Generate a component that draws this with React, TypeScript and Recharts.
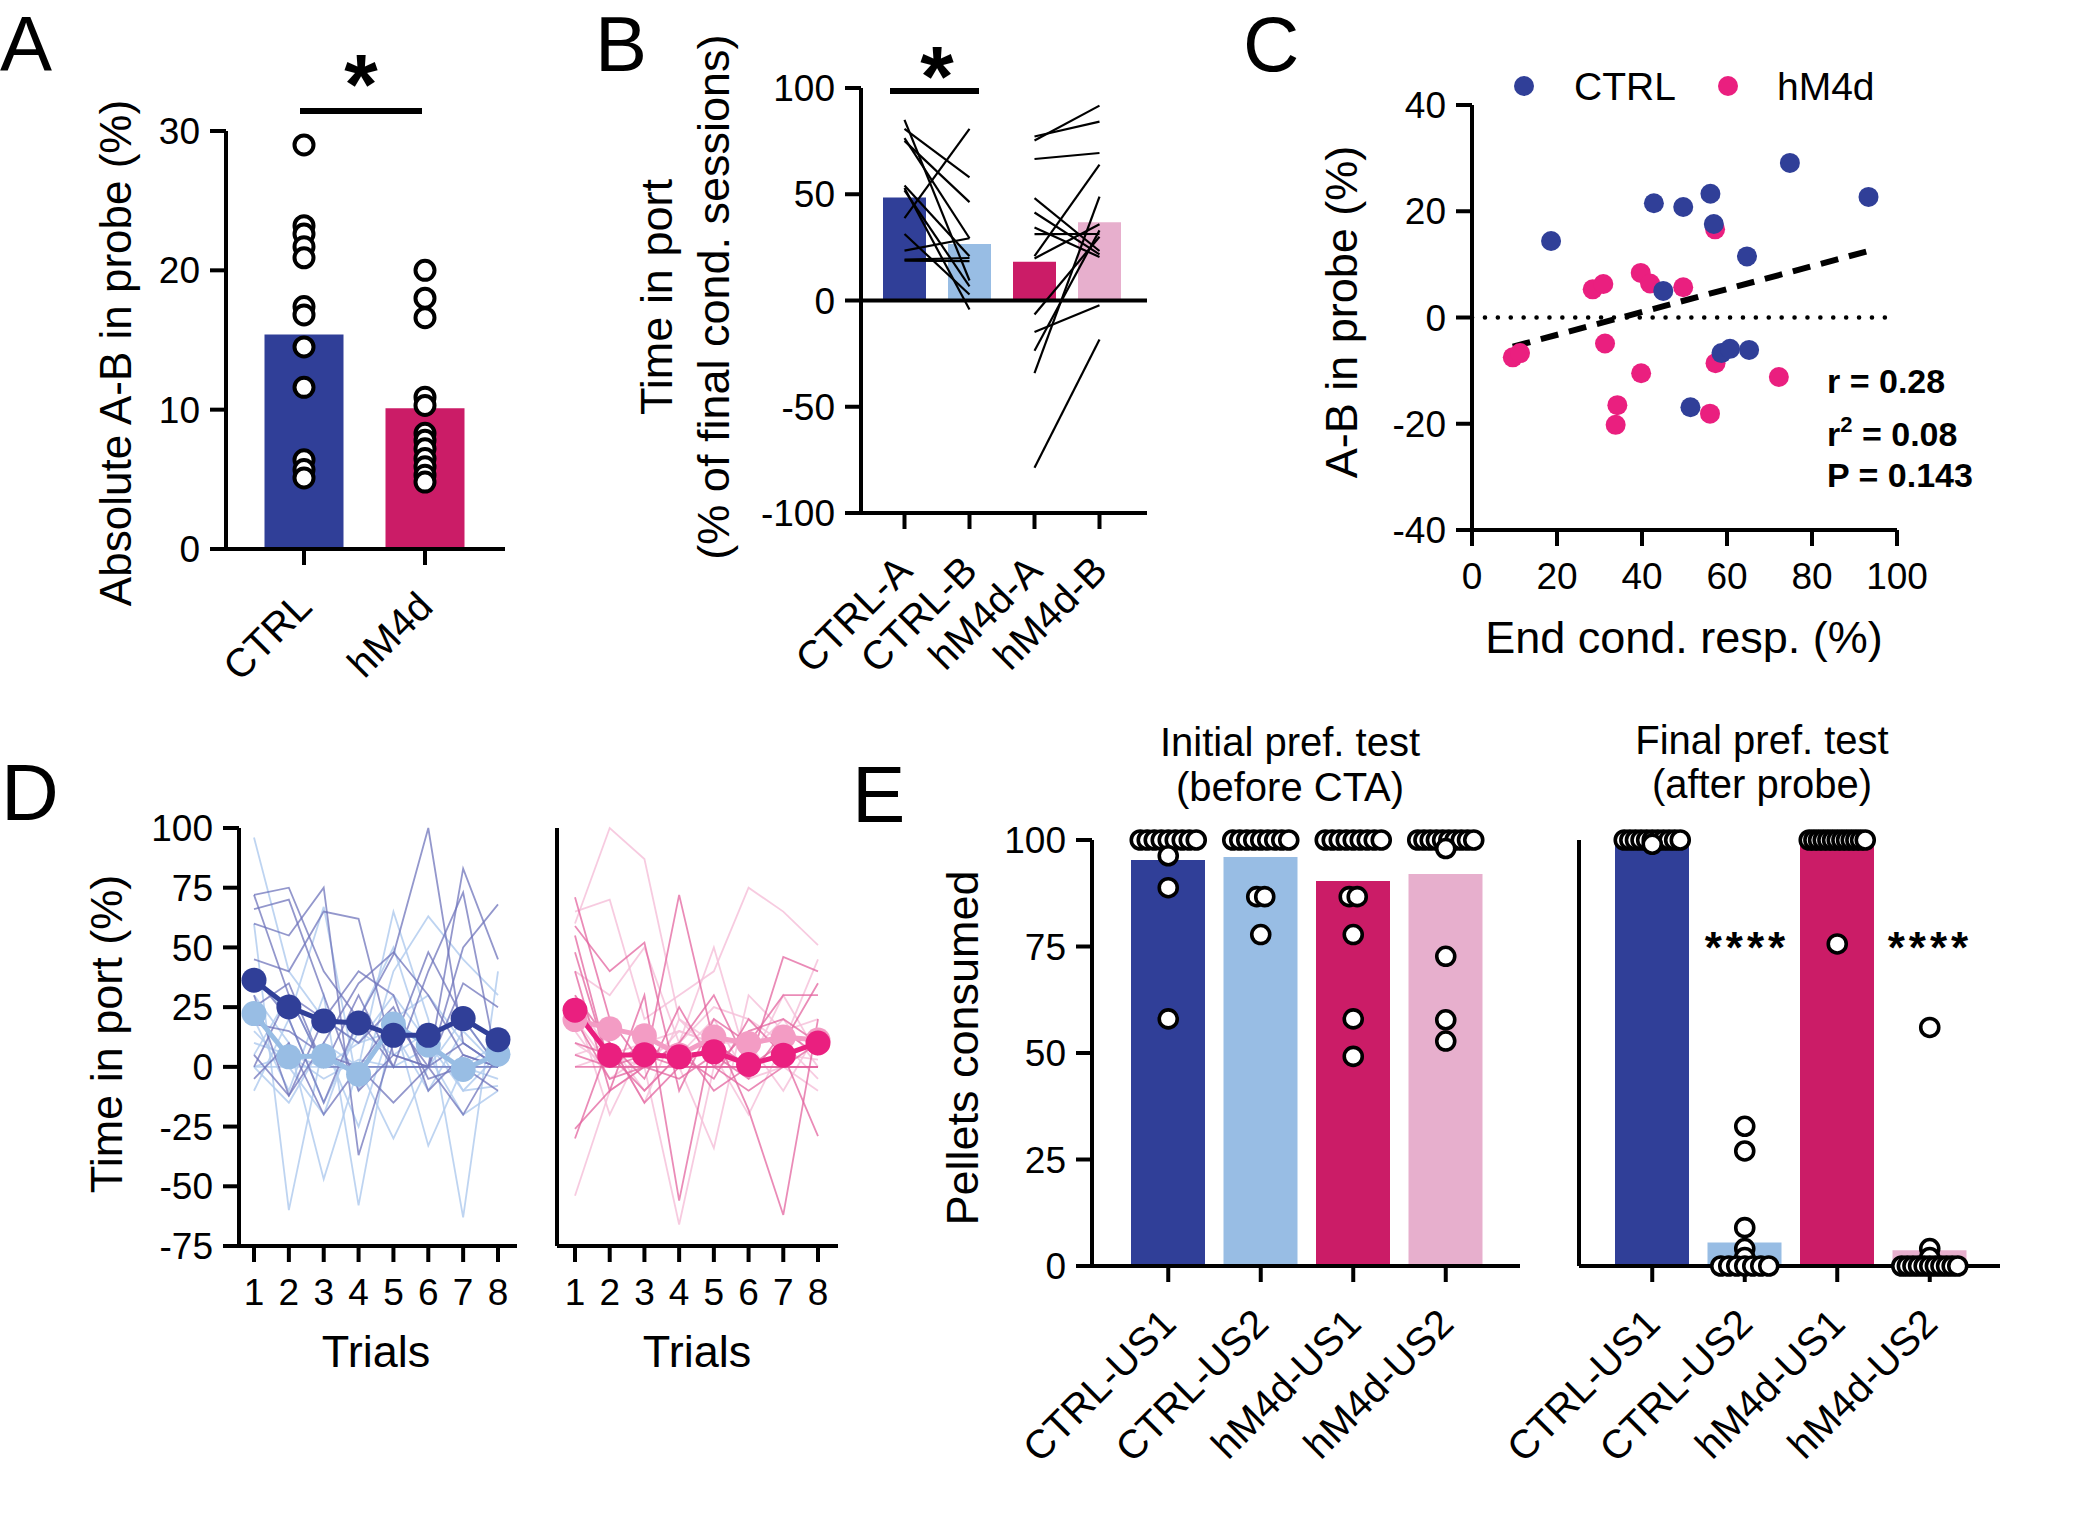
import React from "react";
import { ComposedChart, Bar, Cell, Line, Scatter, XAxis, YAxis, ReferenceLine } from "recharts";

const W = 2082;
const H = 1535;
const FONT = "'Liberation Sans', Arial, Helvetica, sans-serif";

const BLUE = "#303f98";
const LBLUE = "#98bde4";
const MAG = "#cb1c67";
const PINK = "#ea1f7f";
const LPINK = "#e7afcd";
const LPINK_D = "#f39cc4";

// ---- A: absolute A-B in probe
const A_GROUPS = ["CTRL", "hM4d"];
const A_MEANS = [15.4, 10.1];
const A_CTRL = [29.0, 23.2, 22.6, 21.7, 20.9, 17.4, 16.8, 14.5, 11.6, 6.4, 5.7, 5.1];
const A_HM4D = [20.0, 18.0, 16.6, 10.9, 10.3, 8.3, 7.8, 7.2, 6.5, 5.9, 5.3, 4.8];

// ---- B: time in port, paired A/B
const B_GROUPS = ["CTRL-A", "CTRL-B", "hM4d-A", "hM4d-B"];
const B_MEANS = [48.5, 26.6, 18.2, 36.8];
const B_CTRL_A = [85, 80.8, 76.4, 75.1, 54.1, 52.9, 51.8, 38.8, 31.3, 23.5, 19.2, 18.8];
const B_CTRL_B = [9.4, 57.9, 29.3, 46.3, 20.8, -4.2, 6.7, 80.8, 2.8, 29.3, 20, 18.5];
const B_HM4D_A = [75.3, 77.2, 66.6, 48.2, 41.4, 34.3, 31.2, 20.9, 19.8, -6.6, -14.8, -23.6, -34.2, -78.7];
const B_HM4D_B = [91.7, 84.2, 69.4, 23.3, 21.7, 20.5, 31.3, 63.9, 35.9, 30, -2.2, 33, 48.9, -18.4];

// ---- C: correlation
const C_CTRL_X = [18.6, 42.8, 49.7, 56.1, 56.9, 74.8, 93.3, 64.7, 45, 58.7, 60.7, 65.2, 51.4];
const C_CTRL_Y = [14.4, 21.5, 20.8, 23.3, 17.6, 29.1, 22.7, 11.5, 5.0, -6.7, -5.9, -6.1, -16.9];
const C_HM4D_X = [9.6, 11.3, 28.4, 30.9, 39.7, 41.9, 49.7, 57.2, 31.3, 39.8, 34.2, 33.8, 56, 57.3, 72.2];
const C_HM4D_Y = [-7.5, -6.7, 5.3, 6.3, 8.4, 6.4, 5.7, 16.6, -4.9, -10.5, -16.5, -20.2, -18.1, -8.6, -11.2];

// ---- D: time in port per trial
const TRIALS = [1, 2, 3, 4, 5, 6, 7, 8];
const D_CTRL_MEAN_A = [36.3, 25.1, 19.2, 18.4, 13.2, 13.2, 20.2, 11.4];
const D_CTRL_MEAN_B = [22.3, 4.2, 4.5, -3.1, 17.9, 9.1, -1.1, 5.3];
const D_HM4D_MEAN_A = [23.7, 4.9, 5.1, 4.2, 6.3, 1.0, 4.9, 10.0];
const D_HM4D_MEAN_B = [19.8, 16.0, 13.0, 5.0, 12.5, 9.8, 12.5, 11.2];
const D_CTRL_A = [
  [72, 75, 40, 20, 0, 0, 50, 68],
  [66, 70, 30, -10, 5, 0, 83, 45],
  [60, 55, 75, -37, 10, 48, 20, 0],
  [45, 40, 65, 62, 5, 0, 35, 25],
  [38, 20, -15, 20, 47, 100, 10, 0],
  [30, -12, 10, 35, 48, 30, 5, 0],
  [25, 35, 0, 30, 0, 40, 73, 0],
  [18, 15, 5, 0, -15, 0, -20, 5],
  [5, -12, 20, 10, 25, -5, 0, -10],
  [0, 30, 0, 0, 0, 0, 0, 0],
  [72, 30, 20, 40, 30, -10, 5, 0],
  [-5, 10, -20, 0, 20, 0, 10, 0],
];
const D_CTRL_B = [
  [96, 40, 20, 10, 30, 10, -10, 5],
  [60, -60, 10, 0, 65, 20, -63, 40],
  [40, 20, 67, -10, 40, 63, 45, 30],
  [30, 10, -47, 0, -30, 0, 20, 0],
  [20, -10, 30, -58, 20, -33, 0, 10],
  [15, 0, -20, 20, 50, 5, -20, -10],
  [10, 5, 0, 0, 0, 0, 0, 0],
  [0, -15, 10, -25, 20, 30, 10, 0],
  [-10, 20, -15, 15, 5, 15, -10, -8],
  [5, 30, 0, 10, 15, -10, 15, 0],
  [0, 0, 0, 0, 0, 0, 0, 0],
  [0, 5, -5, 3, 0, 8, 0, -5],
];
const D_HM4D_A = [
  [71, 20, 0, 72, 10, 0, 46, 40],
  [59, 40, 52, -10, 20, 10, 30, 30],
  [48, 0, 10, 0, 0, 0, 0, 0],
  [40, -10, 30, -56, 15, -18, -62, 20],
  [30, 10, -5, 25, 0, 15, 20, 10],
  [20, -5, 0, 10, 30, 0, 10, 35],
  [10, 5, -10, 5, -5, 20, 5, -29],
  [5, 0, 5, 0, 0, -10, 0, 0],
  [0, 0, 0, 0, 0, 0, 0, 0],
  [-26, -10, 0, -5, 5, -5, 15, 5],
  [-30, 10, -15, 0, 10, 0, 0, 10],
  [55, 0, 0, 10, -10, 0, 0, 0],
];
const D_HM4D_B = [
  [60, 100, 87, 20, 10, 0, 5, 10],
  [65, 70, 20, 30, 40, 75, 65, 51],
  [40, 30, 50, 10, 25, 20, 10, 45],
  [-54, -10, 0, -66, 0, 5, 20, 0],
  [30, 5, 10, 0, -34, 30, 15, 20],
  [20, 10, -10, 5, 20, -5, 0, -10],
  [15, -5, 5, 10, 50, 0, 30, 5],
  [10, 0, 0, 0, 0, 0, 0, 0],
  [25, -20, 10, 15, 10, 10, -10, 15],
  [5, 10, -15, 20, 5, -20, 10, -5],
  [20, 0, 0, 0, 0, 0, 0, 0],
  [0, 5, 0, 15, 10, 0, 5, 3],
];

// ---- E: pellets consumed
const E_GROUPS = ["CTRL-US1", "CTRL-US2", "hM4d-US1", "hM4d-US2"];
const E_PRE_MEANS = [95.3, 96, 90.4, 92];
const E_POST_MEANS = [100, 5.5, 99, 3.7];
const E_PRE_PTS = [
  [100, 100, 100, 100, 100, 100, 100, 100, 100, 96.3, 88.8, 58],
  [100, 100, 100, 100, 100, 100, 100, 100, 100, 86.7, 86.7, 77.8],
  [100, 100, 100, 100, 100, 100, 100, 100, 100, 86.7, 86.7, 77.8, 58, 49.2],
  [100, 100, 100, 100, 100, 100, 100, 100, 100, 100, 98, 72.7, 57.8, 52.8],
];
const E_POST_PTS = [
  [100, 100, 100, 100, 100, 100, 100, 100, 100, 100, 100, 99],
  [32.8, 27, 9, 4.1, 2, 0, 0, 0, 0, 0, 0, 0],
  [100, 100, 100, 100, 100, 100, 100, 100, 100, 100, 100, 100, 100, 75.6],
  [56, 4.1, 2, 0, 0, 0, 0, 0, 0, 0, 0, 0, 0, 0],
];

type Box = [number, number, number, number]; // plot left, top, right, bottom in page px

const AX = { stroke: "#000", strokeWidth: 4 };
const TICK = { fontSize: 37, fill: "#000", fontFamily: FONT };
const frame = (b: Box) => ({ left: b[0] - 60, top: b[1], right: W - b[2], bottom: H - b[3] - 30 });

// spread identical values side by side, like a scatter-dot plot
function swarm(values: number[], idx: number, band: number) {
  const count = new Map<number, number>();
  values.forEach((v) => count.set(v, (count.get(v) ?? 0) + 1));
  const seen = new Map<number, number>();
  return values.map((v) => {
    const k = count.get(v) ?? 1;
    const i = seen.get(v) ?? 0;
    seen.set(v, i + 1);
    const step = k > 1 ? Math.min(8, 56 / (k - 1)) : 0;
    return { x: idx + ((i - (k - 1) / 2) * step) / band, y: v };
  });
}

function RotTick(props: any) {
  const { x, payload, axisY } = props;
  const ay = axisY + 50;
  return (
    <text x={x} y={ay} transform={`rotate(-45 ${x} ${ay})`} textAnchor="end" dominantBaseline="central"
      fontSize={40} fontFamily={FONT} fill="#000">
      {payload.value}
    </text>
  );
}

function Layer({ children }: { children: React.ReactNode }) {
  return <div style={{ position: "absolute", left: 0, top: 0 }}>{children}</div>;
}

type BarPanelProps = {
  box: Box;
  pad: { left: number; right: number };
  groups: string[];
  means: number[];
  colors: string[];
  yDomain: [number, number];
  yTicks: number[];
  yLabels?: boolean;
  barSize: number;
  points?: number[][];
  pairs?: [number[], number[], number, number][];
  dotR?: number;
  dotW?: number;
  zeroLine?: boolean;
};

function BarPanel(p: BarPanelProps) {
  const rows = p.groups.map((g, i) => ({ name: g, v: p.means[i] }));
  const band = (p.box[2] - p.box[0] - p.pad.left - p.pad.right) / p.groups.length;
  const n = p.groups.length;
  return (
    <Layer>
      <ComposedChart width={W} height={H} margin={frame(p.box)} data={rows}>
        <XAxis xAxisId="cat" dataKey="name" type="category" height={30} padding={p.pad} axisLine={AX}
          tickLine={AX} tickSize={16} interval={0} tick={(t: any) => <RotTick {...t} axisY={p.box[3]} />} />
        <XAxis xAxisId="num" dataKey="x" type="number" domain={[-0.5, n - 0.5]} padding={p.pad} hide />
        <YAxis width={60} domain={p.yDomain} ticks={p.yTicks} interval={0} axisLine={AX} tickLine={AX}
          tickSize={16} tickMargin={10} tick={p.yLabels === false ? false : TICK} />
        <Bar xAxisId="cat" dataKey="v" barSize={p.barSize} isAnimationActive={false}>
          {rows.map((r, i) => <Cell key={r.name} fill={p.colors[i]} />)}
        </Bar>
        {p.zeroLine && <ReferenceLine xAxisId="cat" y={0} stroke="#000" strokeWidth={4} />}
        {(p.pairs ?? []).flatMap(([a, b, i, j], g) =>
          a.map((va, k) => (
            <Line key={`p${g}-${k}`} xAxisId="num" data={[{ x: i, y: va }, { x: j, y: b[k] }]} dataKey="y"
              type="linear" stroke="#000" strokeWidth={2.2} dot={false} isAnimationActive={false} />
          ))
        )}
        {(p.points ?? []).map((vals, i) => (
          <Scatter key={`s${i}`} xAxisId="num" data={swarm(vals, i, band)} dataKey="y" isAnimationActive={false}
            shape={(s: any) => <circle cx={s.cx} cy={s.cy} r={p.dotR ?? 9} fill="#fff" stroke="#000" strokeWidth={p.dotW ?? 3.6} />} />
        ))}
      </ComposedChart>
    </Layer>
  );
}

function Correlation() {
  const box: Box = [1472, 105, 1897, 530];
  const ctrl = C_CTRL_X.map((x, i) => ({ x, y: C_CTRL_Y[i] }));
  const hm = C_HM4D_X.map((x, i) => ({ x, y: C_HM4D_Y[i] }));
  const all = [...ctrl, ...hm];
  const mx = all.reduce((s, d) => s + d.x, 0) / all.length;
  const my = all.reduce((s, d) => s + d.y, 0) / all.length;
  const sxy = all.reduce((s, d) => s + (d.x - mx) * (d.y - my), 0);
  const sxx = all.reduce((s, d) => s + (d.x - mx) ** 2, 0);
  const slope = sxy / sxx;
  const icpt = my - slope * mx;
  const x0 = Math.min(...all.map((d) => d.x));
  const x1 = Math.max(...all.map((d) => d.x));
  const dot = (fill: string) => (s: any) => <circle cx={s.cx} cy={s.cy} r={10} fill={fill} />;
  return (
    <Layer>
      <ComposedChart width={W} height={H} margin={frame(box)}>
        <XAxis dataKey="x" type="number" domain={[0, 100]} ticks={[0, 20, 40, 60, 80, 100]} interval={0}
          height={30} axisLine={AX} tickLine={AX} tickSize={16} tickMargin={17} tick={TICK} />
        <YAxis dataKey="y" type="number" domain={[-40, 40]} ticks={[-40, -20, 0, 20, 40]} interval={0}
          width={60} axisLine={AX} tickLine={AX} tickSize={16} tickMargin={10} tick={TICK} />
        <ReferenceLine y={0} stroke="#000" strokeWidth={4.5} strokeDasharray="0.1 12.8" strokeLinecap="round" />
        <Scatter data={hm} fill={PINK} shape={dot(PINK)} isAnimationActive={false} />
        <Scatter data={ctrl} fill={BLUE} shape={dot(BLUE)} isAnimationActive={false} />
        <ReferenceLine segment={[{ x: x0, y: icpt + slope * x0 }, { x: x1, y: icpt + slope * x1 }]}
          stroke="#000" strokeWidth={6} strokeDasharray="18 11" />
      </ComposedChart>
    </Layer>
  );
}

function Trials({ box, pad, meanA, meanB, subjA, subjB, cA, cB, thinA, thinB, yLabels }: {
  box: Box; pad: { left: number; right: number }; meanA: number[]; meanB: number[];
  subjA: number[][]; subjB: number[][]; cA: string; cB: string; thinA: string; thinB: string; yLabels: boolean;
}) {
  const rows = TRIALS.map((t, i) => {
    const r: Record<string, number> = { t, mA: meanA[i], mB: meanB[i] };
    subjA.forEach((s, j) => (r[`a${j}`] = s[i]));
    subjB.forEach((s, j) => (r[`b${j}`] = s[i]));
    return r;
  });
  return (
    <Layer>
      <ComposedChart width={W} height={H} margin={frame(box)} data={rows}>
        <XAxis dataKey="t" type="number" domain={[1, 8]} ticks={TRIALS} interval={0} padding={pad}
          height={30} axisLine={AX} tickLine={AX} tickSize={16} tickMargin={17} tick={TICK} />
        <YAxis domain={[-75, 100]} ticks={[-75, -50, -25, 0, 25, 50, 75, 100]} interval={0} width={60}
          axisLine={AX} tickLine={AX} tickSize={16} tickMargin={10} tick={yLabels ? TICK : false} />
        {subjB.map((_, j) => (
          <Line key={`b${j}`} dataKey={`b${j}`} stroke={thinB} strokeWidth={1.8} strokeOpacity={0.85} dot={false}
            type="linear" isAnimationActive={false} />
        ))}
        {subjA.map((_, j) => (
          <Line key={`a${j}`} dataKey={`a${j}`} stroke={thinA} strokeWidth={1.8} strokeOpacity={0.75} dot={false}
            type="linear" isAnimationActive={false} />
        ))}
        <Line dataKey="mB" stroke={cB} strokeWidth={5} type="linear" dot={{ r: 12.5, fill: cB, stroke: "none" }}
          isAnimationActive={false} />
        <Line dataKey="mA" stroke={cA} strokeWidth={5} type="linear" dot={{ r: 12.5, fill: cA, stroke: "none" }}
          isAnimationActive={false} />
      </ComposedChart>
    </Layer>
  );
}

function Overlay() {
  const T = { fontFamily: FONT, fill: "#000" };
  const vlabel = (x: number, y: number, s: string, fs = 45) => (
    <text x={x} y={y} transform={`rotate(-90 ${x} ${y})`} textAnchor="middle" fontSize={fs} {...T}>{s}</text>
  );
  return (
    <svg width={W} height={H} style={{ position: "absolute", left: 0, top: 0 }}>
      {/* panel letters */}
      <text x={0} y={71} fontSize={78} {...T}>A</text>
      <text x={595} y={71} fontSize={78} {...T}>B</text>
      <text x={1243} y={71} fontSize={78} {...T}>C</text>
      <text x={1} y={820} fontSize={80} {...T}>D</text>
      <text x={852} y={822} fontSize={80} {...T}>E</text>

      {/* A */}
      {vlabel(131, 353, "Absolute A-B in probe (%)", 44)}
      <line x1={300} x2={422} y1={111} y2={111} stroke="#000" strokeWidth={6} />
      <text x={361} y={114} fontSize={86} fontWeight="bold" textAnchor="middle" {...T}>*</text>

      {/* B */}
      {vlabel(672, 297, "Time in port")}
      {vlabel(729, 297, "(% of final cond. sessions)")}
      <line x1={890} x2={979} y1={91} y2={91} stroke="#000" strokeWidth={6} />
      <text x={937} y={106} fontSize={86} fontWeight="bold" textAnchor="middle" {...T}>*</text>

      {/* C */}
      {vlabel(1357, 312, "A-B in probe (%)")}
      <text x={1684} y={653} fontSize={45} textAnchor="middle" {...T}>End cond. resp. (%)</text>
      <circle cx={1524} cy={86} r={10} fill={BLUE} />
      <text x={1574} y={100} fontSize={39} {...T}>CTRL</text>
      <circle cx={1728} cy={86} r={10} fill={PINK} />
      <text x={1777} y={100} fontSize={39} {...T}>hM4d</text>
      <text x={1827} y={393} fontSize={34} fontWeight="bold" {...T}>r = 0.28</text>
      <text x={1827} y={446} fontSize={34} fontWeight="bold" {...T}>
        r<tspan dy={-14} fontSize={22}>2</tspan><tspan dy={14}> = 0.08</tspan>
      </text>
      <text x={1827} y={487} fontSize={34} fontWeight="bold" {...T}>P = 0.143</text>

      {/* D */}
      {vlabel(122, 1034, "Time in port (%)")}
      <text x={376} y={1367} fontSize={45} textAnchor="middle" {...T}>Trials</text>
      <text x={697} y={1367} fontSize={45} textAnchor="middle" {...T}>Trials</text>

      {/* E */}
      {vlabel(978, 1048, "Pellets consumed")}
      <text x={1290} y={756} fontSize={40} textAnchor="middle" {...T}>Initial pref. test</text>
      <text x={1290} y={801} fontSize={40} textAnchor="middle" {...T}>(before CTA)</text>
      <text x={1762} y={754} fontSize={40} textAnchor="middle" {...T}>Final pref. test</text>
      <text x={1762} y={798} fontSize={40} textAnchor="middle" {...T}>(after probe)</text>
      <text x={1747} y={963} fontSize={44} fontWeight="bold" letterSpacing={4} textAnchor="middle" {...T}>****</text>
      <text x={1930} y={963} fontSize={44} fontWeight="bold" letterSpacing={4} textAnchor="middle" {...T}>****</text>
    </svg>
  );
}

export default function App() {
  return (
    <div style={{ position: "absolute", left: 0, top: 0, width: W, height: H, background: "#fff", fontFamily: FONT }}>
      <BarPanel box={[226, 131, 505, 549]} pad={{ left: 17.5, right: 19.5 }} groups={A_GROUPS} means={A_MEANS}
        colors={[BLUE, MAG]} yDomain={[0, 30]} yTicks={[0, 10, 20, 30]} barSize={79}
        points={[A_CTRL, A_HM4D]} dotR={9.5} dotW={4} />
      <BarPanel box={[861, 88, 1147, 513]} pad={{ left: 11, right: 15 }} groups={B_GROUPS} means={B_MEANS}
        colors={[BLUE, LBLUE, MAG, LPINK]} yDomain={[-100, 100]} yTicks={[-100, -50, 0, 50, 100]} barSize={43}
        pairs={[[B_CTRL_A, B_CTRL_B, 0, 1], [B_HM4D_A, B_HM4D_B, 2, 3]]} zeroLine />
      <Correlation />
      <Trials box={[239, 828, 517, 1246]} pad={{ left: 15, right: 19 }} meanA={D_CTRL_MEAN_A} meanB={D_CTRL_MEAN_B}
        subjA={D_CTRL_A} subjB={D_CTRL_B} cA={BLUE} cB={LBLUE} thinA="#6f74bb" thinB="#b3cdee" yLabels />
      <Trials box={[557, 828, 838, 1246]} pad={{ left: 18, right: 20 }} meanA={D_HM4D_MEAN_A} meanB={D_HM4D_MEAN_B}
        subjA={D_HM4D_A} subjB={D_HM4D_B} cA={PINK} cB={LPINK_D} thinA="#e3649f" thinB="#f6c2db" yLabels={false} />
      <BarPanel box={[1092, 840, 1520, 1266]} pad={{ left: 30, right: 28 }} groups={E_GROUPS} means={E_PRE_MEANS}
        colors={[BLUE, LBLUE, MAG, LPINK]} yDomain={[0, 100]} yTicks={[0, 25, 50, 75, 100]} barSize={74}
        points={E_PRE_PTS} />
      <BarPanel box={[1579, 840, 2000, 1266]} pad={{ left: 27, right: 24 }} groups={E_GROUPS} means={E_POST_MEANS}
        colors={[BLUE, LBLUE, MAG, LPINK]} yDomain={[0, 100]} yTicks={[0, 25, 50, 75, 100]} barSize={74}
        points={E_POST_PTS} yLabels={false} />
      <Overlay />
    </div>
  );
}
